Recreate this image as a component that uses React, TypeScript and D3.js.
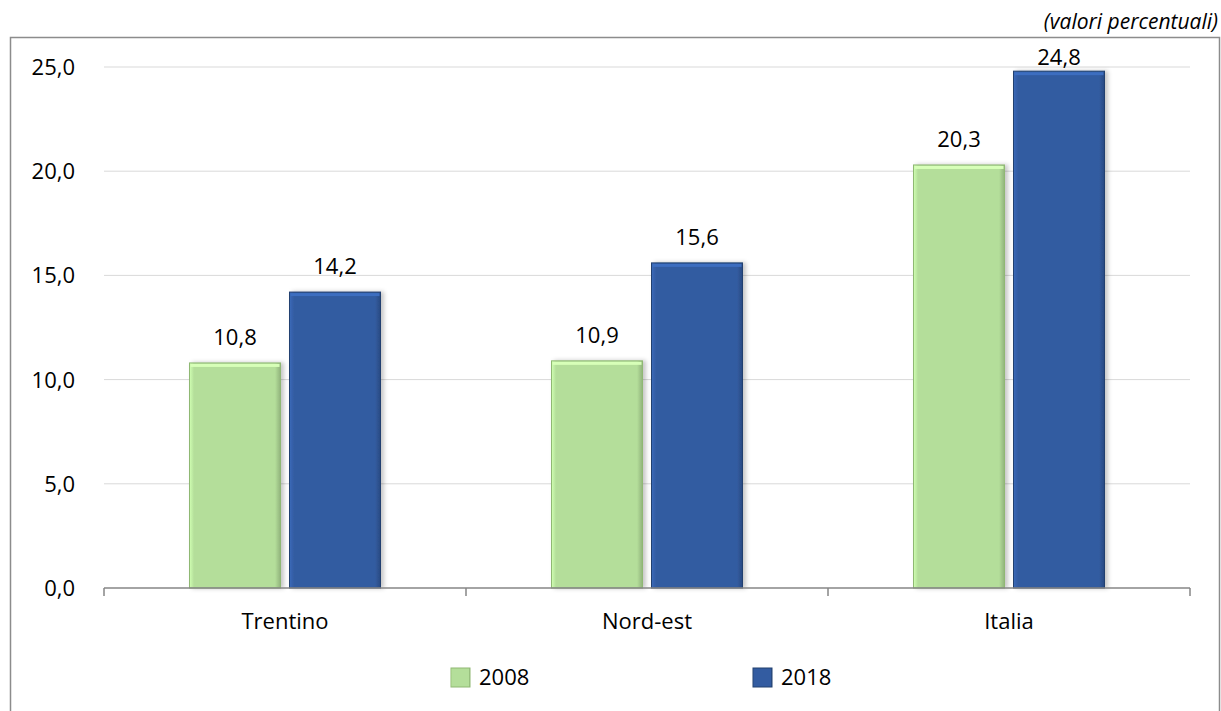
import React from "react";
import * as d3 from "d3";

const categories = ["Trentino", "Nord-est", "Italia"];
const seriesNames = ["2008", "2018"];
const values2008 = [10.8, 10.9, 20.3];
const values2018 = [14.2, 15.6, 24.8];
const yTicks = [0, 5, 10, 15, 20, 25];

const W = 1221;
const H = 711;
const margin = { left: 104, right: 31, top: 67, bottom: 123 };
const fills = ["#b4de9a", "#335ca1"];
const strokes = ["#8fb873", "#22406f"];
const font = "'Open Sans', sans-serif";
const fmt = (v: number) => d3.format(".1f")(v).replace(".", ",");

export default function App() {
  const x0 = d3
    .scaleBand<string>()
    .domain(categories)
    .range([margin.left, W - margin.right])
    .paddingInner(0)
    .paddingOuter(0);
  const x1 = d3
    .scaleBand<string>()
    .domain(seriesNames)
    .range([0, x0.bandwidth()])
    .paddingInner(0.09)
    .paddingOuter(0.855);
  const y = d3
    .scaleLinear()
    .domain([0, 25])
    .range([H - margin.bottom, margin.top]);

  const seriesValues = [values2008, values2018];
  const bw = x1.bandwidth();
  const tickXs = [...categories.map((c) => x0(c)!), x0.range()[1]];

  return (
    <svg width={W} height={H} style={{ display: "block", position: "absolute", left: 0, top: 0 }}>
      <defs>
        {fills.map((f, i) => (
          <linearGradient key={i} id={`edge${i}`} x1="0" y1="0" x2="1" y2="0">
            <stop offset="0" stopColor={d3.color(f)!.brighter(0.4).toString()} />
            <stop offset="0.05" stopColor={f} />
            <stop offset="0.94" stopColor={f} />
            <stop offset="1" stopColor={d3.color(f)!.darker(0.6).toString()} />
          </linearGradient>
        ))}
        <filter id="shadow" x="-10%" y="-10%" width="130%" height="120%">
          <feDropShadow dx="3" dy="0" stdDeviation="2" floodColor="#000" floodOpacity="0.22" />
        </filter>
      </defs>
      <rect x={0} y={0} width={W} height={H} fill="#fff" />
      {/* chart frame */}
      <rect x={10.5} y={37.5} width={1209} height={H} fill="none" stroke="#8c8c8c" strokeWidth={1.5} />
      <text x={1218} y={29} textAnchor="end" fontFamily={font} fontStyle="italic" fontSize={21} fill="#000">
        (valori percentuali)
      </text>
      {/* gridlines and y labels */}
      {yTicks.map((t) => (
        <g key={t}>
          {t > 0 && (
            <line x1={margin.left} x2={W - margin.right} y1={y(t)} y2={y(t)} stroke="#d9d9d9" strokeWidth={1} />
          )}
          <text x={75} y={y(t)} dy="0.36em" textAnchor="end" fontFamily={font} fontSize={22} fill="#000">
            {fmt(t)}
          </text>
        </g>
      ))}
      {/* bars */}
      {categories.map((c, ci) =>
        seriesNames.map((s, si) => {
          const v = seriesValues[si][ci];
          const bx = x0(c)! + x1(s)!;
          const by = y(v);
          const bh = y(0) - by;
          // labels stay inside the frame: a tall bar pulls its label down
          const ly = Math.max(by - 18, 65);
          return (
            <g key={c + s}>
              <rect x={bx} y={by} width={bw} height={bh} fill={`url(#edge${si})`} stroke={strokes[si]} strokeWidth={1} filter="url(#shadow)" />
              <rect x={bx + 1} y={by + 1} width={bw - 2} height={3} fill={d3.color(fills[si])!.brighter(0.5).toString()} />
              <text x={bx + bw / 2} y={ly} textAnchor="middle" fontFamily={font} fontSize={22} fill="#000">
                {fmt(v)}
              </text>
            </g>
          );
        })
      )}
      {/* category axis */}
      <line x1={margin.left} x2={W - margin.right} y1={y(0)} y2={y(0)} stroke="#868686" strokeWidth={1.5} />
      {tickXs.map((tx, i) => (
        <line key={i} x1={tx} x2={tx} y1={y(0)} y2={y(0) + 8} stroke="#868686" strokeWidth={1.5} />
      ))}
      {categories.map((c) => (
        <text key={c} x={x0(c)! + x0.bandwidth() / 2} y={629} textAnchor="middle" fontFamily={font} fontSize={22} fill="#000">
          {c}
        </text>
      ))}
      {/* legend */}
      {seriesNames.map((s, i) => {
        const lx = [451, 753][i];
        return (
          <g key={s}>
            <rect x={lx} y={668} width={19} height={19} fill={`url(#edge${i})`} stroke={strokes[i]} strokeWidth={1} />
            <text x={lx + 28} y={685} fontFamily={font} fontSize={22} fill="#000">
              {s}
            </text>
          </g>
        );
      })}
    </svg>
  );
}
